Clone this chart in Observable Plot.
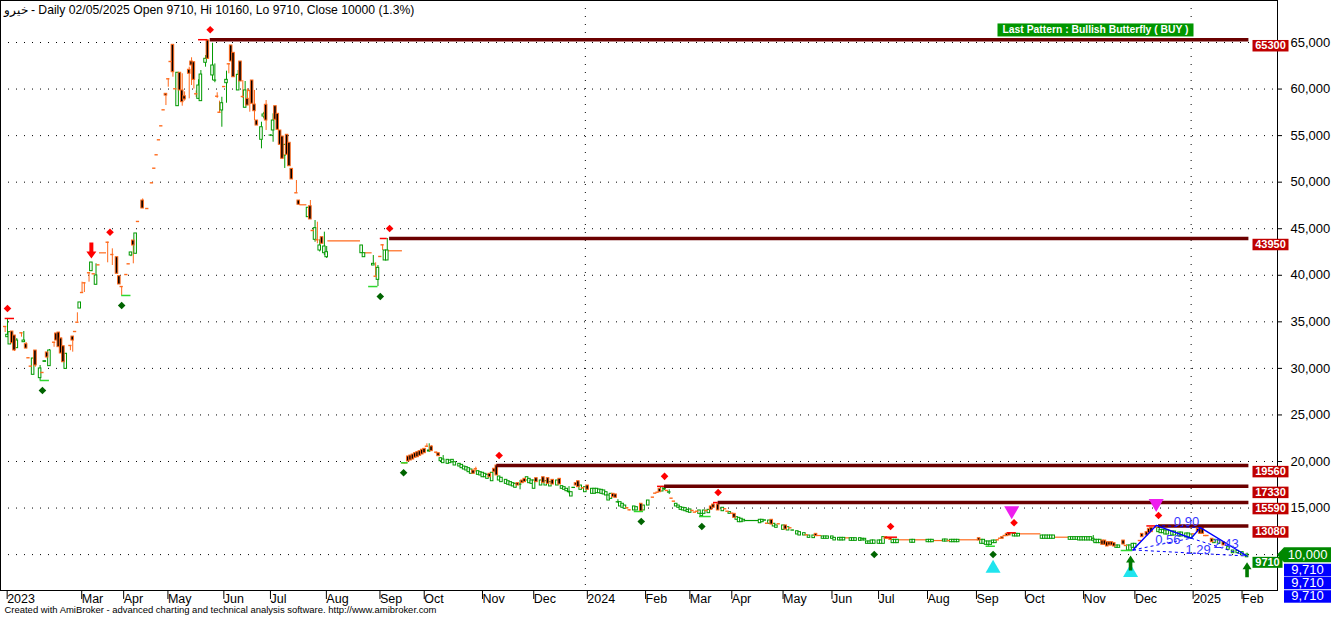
<!DOCTYPE html>
<html><head><meta charset="utf-8">
<script src="https://cdn.jsdelivr.net/npm/d3@7"></script>
<script src="https://cdn.jsdelivr.net/npm/@observablehq/plot@0.6"></script>
<style>html,body{margin:0;padding:0;background:#fff;}#chart svg{display:block;}</style>
</head><body><div id="chart"></div>
<script>
// ---------- DATA (bar index, open, high, low, close) ----------
const titleText = "خیرو - Daily 02/05/2025 Open 9710, Hi 10160, Lo 9710, Close 10000 (1.3%)";
const footerText = "Created with AmiBroker - advanced charting and technical analysis software. http://www.amibroker.com";
const patternText = "Last Pattern : Bullish Butterfly ( BUY )";

const monthTicks = [2,34,52,71,95,115,139,162,181,206,228,251,276,295,313,335,356,376,397,418,439,464,486,511,532];
const monthLabels = ["2023","Mar","Apr","May","Jun","Jul","Aug","Sep","Oct","Nov","Dec","2024","Feb","Mar","Apr","May","Jun","Jul","Aug","Sep","Oct","Nov","Dec","2025","Feb"];
const yearStarts = [251, 511];
const priceTicks = [10000,15000,20000,25000,30000,35000,40000,45000,50000,55000,60000,65000];

const candles = [
[2,34500,34500,33850,34500],[3,33350,35360,33330,33610],[4,32570,33890,32570,33890],[5,33960,33960,32670,32700],
[6,33530,33530,31810,31920],[7,32170,33200,32170,32990],[9,33820,33820,33350,33820],[10,32810,33960,32810,32990],
[11,32600,32780,32100,32130],[12,31140,31140,31140,31140],[13,30240,30240,30240,30240],[14,29310,31060,29310,31060],
[15,31920,31920,30130,30310],[17,28950,30310,28700,29990],[18,29560,29560,29450,29560],[19,30700,30800,30700,30770],
[20,31710,31710,31000,31170],[21,30240,32030,30240,31920],[23,32810,32810,32270,32810],[24,33750,33750,32990,32990],
[25,33850,33850,32270,32280],[26,33210,33300,31600,31600],[27,32380,32380,30660,30660],[28,29950,31600,29900,31570],
[30,32460,32460,31900,32460],[31,33420,33420,31740,32990],[32,33960,33960,33960,33960],[33,34960,35970,34960,34960],
[34,36430,37080,36430,37080],[35,38150,39260,38150,38150],[36,39190,39190,38150,39190],[38,40270,40270,39260,40270],
[39,40440,41370,40440,41370],[40,40160,40160,40160,40160],[41,38980,41230,38980,39980],[42,41120,41120,41120,41120],
[46,43550,43550,41340,43550],[48,42230,42840,41050,42230],[50,41940,41940,40080,40160],[51,39900,39900,39000,39010],
[52,38790,38790,37830,38790],[54,40080,40080,40080,40080],[55,41230,41230,41230,41230],[56,42120,42450,42000,42450],
[57,43730,43730,41230,43200],[58,42310,44490,42310,44490],[59,45780,45780,45780,45780],[61,48030,48200,47170,47170],
[63,47170,47170,47170,47170],[65,49930,49930,49930,49930],[66,51500,51500,51500,51500],[67,52940,52940,52940,52940],
[68,54550,54550,54550,54550],[69,56050,56050,56050,56050],[70,57770,57770,57770,57770],[71,59490,59490,58230,59300],
[72,61100,61100,60200,61100],[73,62960,62960,62960,62960],[74,64750,64750,61270,61810],[75,60030,60030,60030,60030],
[76,58160,61750,58160,61750],[77,61750,61750,59850,59850],[78,59850,61640,58160,58590],[79,59230,59700,58700,58880],
[81,62070,62350,58950,61640],[82,62960,63360,60380,62530],[83,62880,62880,60000,60990],[84,59490,59800,59100,59490],
[85,58950,61000,58950,60380],[86,58700,61990,58700,61560],[88,62820,63600,62350,63250],[89,65210,65300,63250,63250],
[91,61460,64920,60920,62530],[92,60900,62700,60680,60920],[93,59230,59600,59000,59230],[94,57510,58700,57400,57510],
[95,57700,59120,55900,58480],[96,60270,60270,60270,60270],[97,60630,61920,58480,60990],[98,62710,62710,61640,62710],
[99,64680,64680,62960,62960],[100,63890,63890,61270,61270],[102,59850,61990,59850,61530],[103,62960,62960,60810,60810],
[104,59200,60920,59000,59200],[105,57990,60810,57990,59850],[106,58950,60030,58230,58230],[107,59850,59850,57510,59850],
[108,60920,60920,58420,58420],[109,58340,59850,56620,57620],[110,56620,56620,56080,56080],[112,54550,56440,53580,55900],
[113,57050,57500,56800,57270],[114,58310,58770,55550,56620],[116,55000,55100,54900,55010],[117,55550,57340,54290,56620],
[118,58160,58160,56700,56700],[119,57340,57340,55620,55620],[120,55550,55550,54010,54010],[121,54900,54900,52510,52510],
[122,52860,54010,51470,54010],[123,55090,55090,52940,52940],[124,54230,54230,51710,51710],[125,51430,51430,50290,50290],
[127,48860,50180,48860,48860],[128,48030,48030,47570,47570],[132,46240,47250,46240,47250],[133,47420,48030,45990,45990],
[134,44810,44810,44810,44810],[135,43810,45880,43550,45060],[136,43810,45700,43380,43810],[137,42660,43810,42500,43200],
[138,44090,44090,43380,43380],[139,42370,44630,42120,43090],[140,41940,43090,41800,42480],[155,42370,43200,42370,43200],
[156,41940,42370,41940,42370],[160,41050,42120,41050,41230],[161,39900,41340,39900,39900],[162,39510,41050,38790,40800],
[163,42020,42020,42020,42020],[164,43270,43270,42660,43270],[165,41590,42660,41590,42660],[166,41590,43950,41590,42660],
[173,19860,19860,19860,19860],[174,19860,19860,19860,19860],[175,20540,20540,20000,20000],[176,20640,20640,20110,20110],
[177,20750,20750,20210,20210],[178,20890,20890,20400,20400],[179,21000,21000,20460,20460],[180,21110,21110,20610,20610],
[181,21260,21260,20750,20750],[182,21360,21360,20890,20890],[183,21640,21900,21500,21640],[184,21070,21900,21000,21180],
[185,21610,21700,21100,21110],[187,21000,21000,20800,21000],[188,20890,20890,20570,20570],[189,20030,20360,19950,20350],
[190,19820,20640,19800,20210],[192,19750,20180,19750,20180],[193,19820,20110,19800,20110],[194,19920,20180,19860,20180],
[195,19570,19920,19570,19920],[197,19460,19750,19460,19750],[198,19280,19640,19280,19640],[199,19140,19460,19140,19460],
[200,19030,19390,19030,19390],[201,18850,19280,18850,19280],[202,18680,19140,18680,19140],[203,19030,19030,18680,18680],
[204,19220,19390,18850,19220],[205,18570,18960,18570,18960],[206,18500,18850,18500,18850],[207,18310,18790,18310,18790],
[208,18310,18680,18310,18680],[209,18140,18570,18140,18570],[210,18680,18680,18310,18310],[211,17880,18790,17880,18790],
[212,19220,19220,18850,18850],[213,19570,19570,18500,18500],[214,17960,18390,17960,18390],[215,17780,18250,17780,18250],
[217,17600,18030,17600,18030],[218,17500,17880,17500,17880],[219,17420,17780,17420,17780],[220,17320,17670,17320,17670],
[221,17180,17600,17180,17600],[222,17670,17670,17420,17420],[223,17500,17960,16960,17530],[224,17960,17960,17670,17670],
[225,18140,18140,17780,17780],[226,17960,18310,17960,18310],[227,17670,18140,17670,18140],[228,17600,17960,17600,17960],
[229,17070,17960,17070,17960],[230,18210,18210,17780,17780],[232,17420,17960,17420,17960],[233,18310,18310,17710,17710],
[234,17420,17880,17420,17880],[235,18210,18210,17600,17600],[236,17320,17780,17320,17780],[237,18030,18030,17530,17530],
[239,17420,17960,17420,17960],[240,18140,18140,17530,17530],[241,17070,17350,17070,17350],[242,16960,17240,16960,17240],
[243,16810,17070,16810,17070],[244,16700,17300,16530,16750],[245,16240,16700,16240,16700],[246,17150,17200,17150,17180],
[247,17670,17670,17420,17420],[248,17880,17880,17240,17240],[249,16960,17420,16960,17420],[250,17180,17180,17000,17180],
[251,16700,17240,16700,17240],[252,17420,17420,16960,16960],[254,16530,17070,16530,17070],[255,16530,17070,16530,17070],
[256,16600,17070,16600,17070],[257,16600,16990,16600,16990],[258,16530,16960,16530,16960],[259,16460,16890,16460,16890],
[260,16350,16700,16350,16700],[261,15810,16350,15810,16350],[262,15990,16530,15990,16530],[263,16530,16530,16170,16170],
[264,16460,16460,16100,16100],[265,15600,15900,15500,15630],[266,15170,15630,15170,15630],[267,15030,15460,15030,15460],
[268,14920,15270,14920,15270],[269,15030,15030,14900,15030],[270,14810,14810,14700,14810],[272,14740,15170,14740,15170],
[273,14740,15090,14740,15090],[275,15460,15460,14630,14630],[276,14740,15270,14740,15270],[278,15270,15810,15270,15810],
[280,16170,16170,16170,16170],[281,16600,16600,16600,16600],[282,16700,16700,16700,16700],[283,17070,17070,16700,16700],
[284,16780,17330,16780,17240],[285,17000,17330,16900,17070],[286,16890,16890,16890,16890],[287,16650,16960,16450,16700],
[288,16060,16060,16060,16060],[289,15740,15740,15740,15740],[290,15170,15460,15170,15460],[291,15030,15270,15030,15270],
[292,14810,15090,14810,15090],[293,14740,15030,14740,15030],[294,14660,14990,14660,14990],[295,14560,14810,14560,14810],
[296,14490,14850,14490,14850],[297,14740,14740,14740,14740],[298,14560,14560,14560,14560],[299,14660,14660,14660,14660],
[300,14380,14740,14380,14740],[301,14130,14380,14090,14380],[302,14380,14740,14380,14740],[303,14740,14740,14740,14740],
[304,14450,14810,14450,14810],[305,15170,15170,14810,14810],[306,15380,15560,15030,15030],[308,15380,15590,14740,14740],
[310,14660,15030,14660,15030],[311,14920,14920,14920,14920],[312,14660,14660,14660,14660],[313,14380,14560,14380,14560],
[314,14450,14450,14450,14450],[315,14380,14380,13950,13950],[316,13740,14020,13740,14020],[317,13480,13950,13480,13950],
[318,13480,13850,13480,13850],[319,13560,13740,13560,13740],[326,13370,13740,13370,13740],[327,13480,13740,13480,13740],
[328,13640,13700,13640,13680],[329,13370,13370,13370,13370],[330,13310,13660,13310,13660],[331,13740,13740,13230,13230],
[332,13020,13310,13020,13310],[333,12880,13130,12880,13130],[334,13310,13310,13310,13310],[336,12660,13130,12660,13130],
[337,13130,13130,12700,12700],[338,12590,12940,12590,12940],[339,12880,12880,12880,12880],[340,12570,12610,12570,12600],
[342,12160,12510,12160,12510],[343,12050,12410,12050,12410],[345,12050,12300,12050,12300],[346,12130,12130,12130,12130],
[347,11800,12050,11800,12050],[349,11770,12050,11770,12050],[350,12230,12230,11980,11980],[353,11700,11950,11700,11950],
[354,11700,11950,11700,11950],[355,11700,11950,11700,11950],[357,11700,11950,11700,11950],[358,11520,11800,11520,11800],
[360,11520,11800,11520,11800],[361,11520,11800,11520,11800],[362,11520,11800,11520,11800],[365,11480,11760,11480,11760],
[366,11480,11760,11480,11760],[367,11480,11760,11480,11760],[369,11480,11760,11480,11760],[370,11520,11700,11520,11700],
[371,11520,11700,11520,11700],[372,11160,11410,11160,11410],[373,11160,11410,11160,11410],[374,11160,11520,11160,11520],
[375,11160,11520,11160,11520],[377,11160,11520,11160,11520],[378,11160,11520,11160,11520],[379,11160,11880,11160,11880],
[380,11870,11870,11700,11700],[381,11760,11760,11760,11760],[382,11760,11760,11590,11590],[383,11230,11590,11230,11590],
[384,11230,11590,11230,11590],[385,11230,11590,11230,11590],[391,11270,11590,11270,11590],[392,11270,11590,11270,11590],
[398,11330,11590,11330,11590],[399,11330,11590,11330,11590],[400,11330,11590,11330,11590],[405,11400,11620,11400,11620],
[406,11400,11620,11400,11620],[407,11510,11510,11510,11510],[408,11330,11590,11330,11590],[409,11330,11590,11330,11590],
[410,11330,11590,11330,11590],[411,11330,11590,11330,11590],[420,11760,11760,11510,11510],[421,11160,11590,11160,11590],
[422,11160,11590,11160,11590],[423,11050,11410,11050,11410],[424,11050,11410,10900,11410],[425,11050,11410,11050,11410],
[426,11230,11510,11230,11510],[427,11230,11510,11230,11510],[428,11590,11590,11590,11590],[429,11760,11760,11760,11760],
[430,11870,11870,11700,11700],[431,12050,12050,12050,12050],[432,12230,12230,11980,11980],[433,12300,12340,12050,12050],
[435,11950,12230,11950,12230],[436,11950,12230,11950,12230],[437,11950,12230,11950,12230],[447,11700,12050,11700,12050],
[448,11700,12050,11700,12050],[449,11700,12050,11700,12050],[450,11700,12050,11700,12050],[451,11700,12050,11700,12050],
[452,11700,12050,11700,12050],[459,11590,11870,11590,11870],[460,11590,11870,11590,11870],[461,11590,11870,11590,11870],
[462,11590,11870,11590,11870],[463,11520,11870,11520,11870],[464,11520,11870,11520,11870],[465,11520,11870,11520,11870],
[466,11520,11870,11520,11870],[467,11520,11870,11520,11870],[468,11520,11870,11520,11870],[469,11500,12050,11330,11700],
[470,11230,11590,11230,11590],[471,11230,11590,11230,11590],[472,11230,11590,11230,11590],[473,11510,11510,11050,11050],
[474,11510,11510,11050,11050],[475,11330,11330,10870,10870],[476,11330,11330,10980,10980],[477,11330,11330,10980,10980],
[478,11230,11230,10870,10870],[479,10730,10980,10730,10980],[480,10730,10980,10730,10980],[482,11510,11510,11080,11080],
[483,10980,10980,10980,10980],[484,10440,10980,10440,10980],[485,10440,10980,10440,10980],[486,10730,11160,10730,11160],
[487,10730,11160,10730,11160],[489,11510,11510,11510,11510],[490,12230,12230,11870,11870],[492,12410,12410,12050,12050],
[493,12770,12770,12300,12300],[494,12880,12880,12410,12410],[496,12940,13130,12940,12940],[497,12410,12880,12410,12880],
[498,12300,12660,12300,12660],[499,12300,12660,12300,12660],[500,12160,12590,12160,12590],[501,12160,12590,12160,12590],
[503,12050,12480,12050,12480],[504,12050,12480,12050,12480],[506,11950,12370,11950,12370],[507,11950,12370,11950,12370],
[509,11840,12270,11840,12270],[510,11840,12270,11840,12270],[511,11760,12160,11760,12160],[512,12230,12230,12230,12230],
[514,12770,12770,12410,12410],[515,12880,12900,12230,12230],[516,12880,12880,12230,12230],[517,12050,12050,12050,12050],
[518,12050,12050,12050,12050],[520,11700,11700,11330,11330],[521,11230,11590,11230,11590],[523,11160,11510,11160,11510],
[525,11330,11330,10980,10980],[527,10520,10800,10520,10800],[529,10150,10440,10150,10440],[531,10150,10400,10150,10400],
[533,10010,10260,10010,10260],[535,9710,10160,9710,10000]
];

// runs of untraded/flat bars: [first bar, last bar, price]
const flatRunsDown = [[43,45,42410],[129,131,47570],[141,154,43700],[157,159,42410],[167,172,42630],[351,352,12050],
  [363,364,11800],[386,390,11590],[393,397,11590],[401,404,11510],[412,419,11590],[438,446,12230],[453,458,11870]];
const flatRunsUp = [[320,325,13660]];

// resistance levels: [start bar, price]
const resistance = [[90,65300],[167,43950],[213,19560],[285,17330],[308,15590],[497,13080]];
const highLines = [[2,6,35360],[85,89,65300],[163,166,43950],[282,285,17330],[306,308,15590],[380,385,11870],[432,436,12340],[492,496,13080]];
const lowLines = [[17,21,28700],[52,56,37830],[158,162,38790],[172,175,19860],[272,276,14630],[300,305,14090],[423,427,10900],[481,486,10440]];

const highDiamonds = [[3,35360],[47,43550],[90,65300],[167,43950],[214,19570],[285,17330],[308,15590],[382,11940],[435,12340],[497,13130]];
const lowDiamonds = [[18,28700],[52,37830],[163,38790],[173,19860],[275,14630],[301,14090],[375,11080],[426,11080]];
const sellArrows = [[39,41370]];
const buyArrows = [[485,10440],[535,9710]];
const cyanUp = [[426,10900],[485,10440]];
const magentaDown = [[434,12340],[496,13130]];

// harmonic pattern points X A B C D
const patX = [486,10500], patA = [496,13130], patB = [511,11760], patC = [515,12900], patD = [535,9850];
const patternRatios = [["0.90",509,13550],["0.56",501,11620],["1.29",514,10550],["2.43",526,11200]];

const lastClose = 10000, lastLow = 9710;
const lastLowRows = ["9,710", "9,710", "9,710"];

// ---------- STYLE ----------
const ORANGE = "#ff6a1c", GREEN = "#009900", LIME = "#2fd82f", RED = "#ff0000",
      DKGREEN = "#006400", MAROON = "#6b0000", BOXRED = "#c00000", BLUE = "#0000ff";
const FONT = "'Liberation Sans', Arial, sans-serif";
const HALF = 0.55; // half body width in bars

const up = candles.filter(d => d[4] > d[1]);
const down = candles.filter(d => d[4] < d[1]);
const flat = candles.filter(d => d[4] === d[1]);
const lastBar = d3.max(candles, d => d[0]);
const axisPriceTicks = priceTicks.filter(v => v !== lastClose); // the close tag covers this label

function sym(points) {
  return {draw(ctx) { ctx.moveTo(points[0][0], points[0][1]); for (const p of points.slice(1)) ctx.lineTo(p[0], p[1]); ctx.closePath(); }};
}
const diamond = sym([[0,-3.8],[3.8,0],[0,3.8],[-3.8,0]]);
const triUp = sym([[0,-6.5],[7.5,6.5],[-7.5,6.5]]);
const triDown = sym([[0,6.5],[7.5,-6.5],[-7.5,-6.5]]);
const arrowDown = sym([[0,0],[5,-7],[2,-7],[2,-16],[-2,-16],[-2,-7],[-5,-7]]);
const arrowUp = sym([[0,0],[4.5,7],[1.8,7],[1.8,15],[-1.8,15],[-1.8,7],[-4.5,7]]);

const plot = Plot.plot({
  width: 1336, height: 619,
  marginLeft: 0, marginRight: 59, marginTop: 0, marginBottom: 29,
  style: {fontFamily: FONT, background: "white", color: "black", overflow: "visible"},
  x: {domain: [0, 548.07]},
  y: {domain: [6145, 69511]},
  marks: [
    Plot.gridY(priceTicks, {stroke: "black", strokeOpacity: 1, strokeDasharray: "1,7"}),
    Plot.ruleX(yearStarts, {stroke: "black", strokeDasharray: "1,7"}),
    Plot.frame({stroke: "black"}),
    Plot.axisX(monthTicks, {anchor: "bottom", tickSize: 9, tickPadding: -5, textAnchor: "start", dx: 2, fontSize: 12.5,
      tickFormat: d => monthLabels[monthTicks.indexOf(d)], label: null}),
    Plot.axisY(axisPriceTicks, {anchor: "right", tickSize: 4, tickPadding: 9, fontSize: 13, tickFormat: d3.format(","), label: null}),
    // flat runs
    Plot.ruleY(flatRunsDown, {y: d => d[2], x1: d => d[0] - 0.5, x2: d => d[1] + 0.5, stroke: ORANGE, strokeWidth: 1.2}),
    Plot.ruleY(flatRunsUp, {y: d => d[2], x1: d => d[0] - 0.5, x2: d => d[1] + 0.5, stroke: GREEN, strokeWidth: 1.2}),
    // candles
    Plot.ruleX(up, {x: d => d[0], y1: d => d[3], y2: d => d[2], stroke: GREEN}),
    Plot.ruleX(down.concat(flat), {x: d => d[0], y1: d => d[3], y2: d => d[2], stroke: ORANGE}),
    Plot.rect(up, {x1: d => d[0] - HALF, x2: d => d[0] + HALF, y1: d => d[1], y2: d => d[4], fill: "white", stroke: GREEN}),
    Plot.rect(down, {x1: d => d[0] - HALF, x2: d => d[0] + HALF, y1: d => d[1], y2: d => d[4], fill: "black", stroke: ORANGE}),
    Plot.ruleY(flat, {y: d => d[4], x1: d => d[0] - 0.7, x2: d => d[0] + 0.7, stroke: ORANGE, strokeWidth: 1.4}),
    // resistance
    Plot.ruleY(resistance, {y: d => d[1], x1: d => d[0], x2: lastBar + 0.8, stroke: MAROON, strokeWidth: 3.5}),
    Plot.ruleY(highLines, {y: d => d[2], x1: d => d[0], x2: d => d[1], stroke: RED, strokeWidth: 1.5}),
    Plot.ruleY(lowLines, {y: d => d[2], x1: d => d[0], x2: d => d[1], stroke: LIME, strokeWidth: 1.5}),
    // pattern
    Plot.link([[patX, patB], [patA, patC], [patB, patD], [patX, patD]], {
      x1: d => d[0][0], y1: d => d[0][1], x2: d => d[1][0], y2: d => d[1][1], stroke: BLUE, strokeDasharray: "3,3", strokeWidth: 1}),
    Plot.line([patX, patA, patB, patC, patD], {x: d => d[0], y: d => d[1], stroke: BLUE, strokeWidth: 1.4}),
    Plot.text(patternRatios, {x: d => d[1], y: d => d[2], text: d => d[0], fill: "#3838ff", fontSize: 13}),
    // markers
    Plot.dot(highDiamonds, {x: d => d[0], y: d => d[1], dy: -10, symbol: diamond, fill: RED, stroke: "none"}),
    Plot.dot(lowDiamonds, {x: d => d[0], y: d => d[1], dy: 10, symbol: diamond, fill: DKGREEN, stroke: "none"}),
    Plot.dot(cyanUp, {x: d => d[0], y: d => d[1], dy: 20, symbol: triUp, fill: "#20e4ee", stroke: "none"}),
    Plot.dot(magentaDown, {x: d => d[0], y: d => d[1], dy: -20, symbol: triDown, fill: "#ee1eee", stroke: "none"}),
    Plot.dot(sellArrows, {x: d => d[0], y: d => d[1], dy: -4, symbol: arrowDown, fill: RED, stroke: "none"}),
    Plot.dot(buyArrows, {x: d => d[0], y: d => d[1], dy: 5, symbol: arrowUp, fill: "#007a00", stroke: "none"}),
    // right-side labels
    Plot.text(resistance, {y: d => d[1], text: d => String(d[1]), frameAnchor: "right", textAnchor: "middle", dx: -7, dy: 6,
      fill: "white", fontWeight: "bold", fontSize: 11}),
    Plot.text([lastLow], {y: d => d, text: d => String(d), frameAnchor: "right", textAnchor: "middle", dx: -10, dy: 5,
      fill: "white", fontWeight: "bold", fontSize: 11}),
    Plot.text([lastClose], {y: d => d, text: d => d3.format(",")(d), frameAnchor: "right", textAnchor: "middle", dx: 30, dy: 0,
      fill: "white", fontSize: 13}),
    Plot.text(lastLowRows, {y: () => lastLow, text: d => d, frameAnchor: "right", textAnchor: "middle", dx: 30,
      fill: "white", fontSize: 13}),
    // texts
    Plot.text([titleText], {frameAnchor: "top-left", dx: 3, dy: 4.5, lineAnchor: "top", textAnchor: "start", fontSize: 12.2, fill: "black"}),
    Plot.text([patternText], {frameAnchor: "top-right", textAnchor: "middle", dx: -182, dy: 25.5, fill: "white", fontWeight: "bold", fontSize: 10.5}),
    Plot.text([footerText], {frameAnchor: "bottom-left", dx: 4, dy: 22, textAnchor: "start", fontSize: 9, fill: "black"})
  ]
});
document.getElementById("chart").append(plot);

// ---------- boxes behind label texts ----------
const resNames = resistance.map(d => String(d[1]));
function isWhite(el) { return getComputedStyle(el).fill.replace(/\s/g, "") === "rgb(255,255,255)"; }
let blueK = 0;
const blueShift = [12.5, 25.5, 39];
d3.select(plot).selectAll("text").each(function() {
  const t = this.textContent;
  if (t === footerText) { this.setAttribute("textLength", 432); this.setAttribute("lengthAdjust", "spacingAndGlyphs"); return; }
  if (!isWhite(this)) return;
  let fill, w, h, tag = false;
  if (resNames.includes(t)) { fill = BOXRED; w = 36; h = 11.5; }
  else if (t === String(lastLow)) { fill = "#008800"; w = 30; h = 11; }
  else if (t === d3.format(",")(lastClose)) { fill = "#008800"; w = 47; h = 15; tag = true; }
  else if (t === "9,710") {
    fill = "#0000ff"; w = 47; h = 12.5;
    const s = blueShift[blueK++];
    const prev = this.getAttribute("transform");
    if (prev) this.setAttribute("transform", prev + ` translate(0,${s})`);
    else this.setAttribute("y", (+this.getAttribute("y") || 0) + s);
  }
  else if (t === patternText) {
    fill = "#009600"; w = 196; h = 13;
    this.setAttribute("textLength", 186); this.setAttribute("lengthAdjust", "spacingAndGlyphs");
  }
  else return;
  const b = this.getBBox();
  const cx = b.x + b.width / 2, cy = b.y + b.height / 2 + 0.5;
  const p = this.parentNode;
  const tr = this.getAttribute("transform");
  let el;
  if (tag) {
    const l = cx - w / 2, r = cx + w / 2, tp = cy - h / 2, bt = cy + h / 2;
    el = document.createElementNS("http://www.w3.org/2000/svg", "path");
    el.setAttribute("d", `M${l},${tp}H${r}V${bt}H${l}L${l - 7},${cy}Z`);
  } else {
    el = document.createElementNS("http://www.w3.org/2000/svg", "rect");
    el.setAttribute("x", cx - w / 2); el.setAttribute("y", cy - h / 2);
    el.setAttribute("width", w); el.setAttribute("height", h);
  }
  el.setAttribute("fill", fill);
  el.setAttribute("stroke", "none");
  if (tr) el.setAttribute("transform", tr);
  p.insertBefore(el, this);
});
</script></body></html>
